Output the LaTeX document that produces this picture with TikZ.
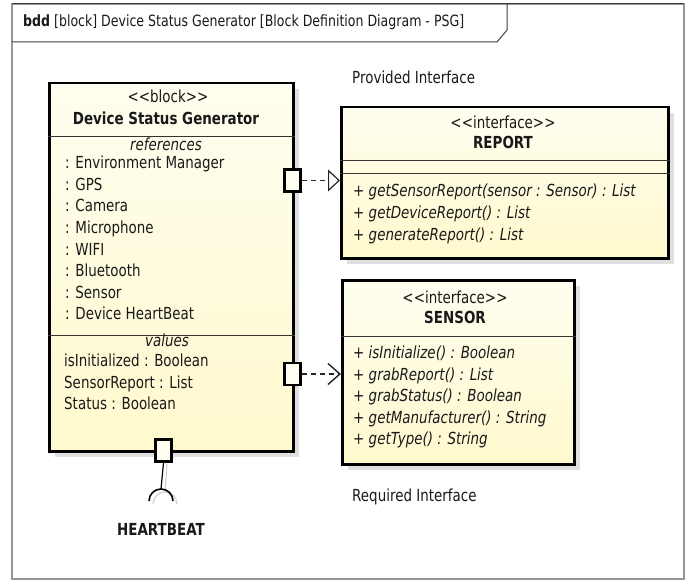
\documentclass[tikz,border=0pt]{standalone}
\usepackage{fontspec}
\setmainfont{DejaVu Sans}[FakeStretch=0.81]
\usetikzlibrary{arrows.meta}
\definecolor{boxtop}{RGB}{255,254,240}
\definecolor{boxbot}{RGB}{255,249,205}
\definecolor{shadowgray}{RGB}{224,224,224}
\definecolor{framegray}{RGB}{150,150,150}
\definecolor{inkdark}{RGB}{25,25,25}
\tikzset{
  txt/.style={font=\fontsize{16.6}{19}\selectfont, inner sep=0pt, text=inkdark},
  hdr/.style={font=\fontsize{15.5}{18}\selectfont, inner sep=0pt, text=inkdark},
  umlbox/.style={draw=black, line width=2.5pt, top color=boxtop, bottom color=boxbot, inner sep=0pt, anchor=north west},
  portbox/.style={draw=black, line width=2.5pt, fill=boxtop, minimum width=16pt, minimum height=22pt, inner sep=0pt},
  sepline/.style={draw=black!80, line width=1pt},
  depline/.style={draw=black!85, line width=1.2pt, dash pattern=on 5pt off 4pt},
  shadowrect/.style={fill=shadowgray},
}
\begin{document}
\begin{tikzpicture}[x=1pt,y=-1pt]
\useasboundingbox (0,0) rectangle (693,580);
\fill[white] (0,0) rectangle (693,580);
% frame
\draw[framegray, line width=1.5pt] (12,4) rectangle (684,579);
\draw[black!75, line width=1pt] (12,4) -- (684,4);
\draw[black!75, line width=1pt] (12,42) -- (497,42) -- (507,30) -- (507,4);
\node[hdr, anchor=mid west] (title) at (23,24) {\textbf{bdd} [block] Device Status Generator [Block Definition Diagram - PSG]};

% shadows
\fill[shadowrect] (55,89) rectangle (299,457);
\fill[shadowrect] (347,113) rectangle (674,264);
\fill[shadowrect] (348,286) rectangle (580,470);

% block
\node[umlbox, minimum width=244pt, minimum height=368pt] (blk) at (48,82) {};
\node[txt, anchor=mid] (st1) at (168,100) {{<}{<}block{>}{>}};
\node[txt, anchor=mid] (nm1) at (166,122) {\textbf{Device Status Generator}};
\draw[sepline] (blk.west |- 0,137) -- (blk.east |- 0,137);
\node[txt, anchor=mid] (refs) at (166,148) {\itshape references};
\foreach \t [count=\i] in {Environment Manager, GPS, Camera, Microphone, WIFI, Bluetooth, Sensor, Device HeartBeat}
  \node[txt, anchor=mid west] (ref\i) at (65,{166+21.6*(\i-1)}) {: \t};
\draw[sepline] (blk.west |- 0,335) -- (blk.east |- 0,335);
\node[txt, anchor=mid] (vals) at (167,344) {\itshape values};
\node[txt, anchor=mid west] (v1) at (64,364) {isInitialized : Boolean};
\node[txt, anchor=mid west] (v2) at (64,386) {SensorReport : List};
\node[txt, anchor=mid west] (v3) at (64,407) {Status : Boolean};

% REPORT interface
\node[umlbox, minimum width=327pt, minimum height=151pt] (rep) at (340,106) {};
\node[txt, anchor=mid] (st2) at (503,126) {{<}{<}interface{>}{>}};
\node[txt, anchor=mid] (nm2) at (503,146) {\textbf{REPORT}};
\draw[sepline] (rep.west |- 0,161) -- (rep.east |- 0,161);
\draw[sepline] (rep.west |- 0,174) -- (rep.east |- 0,174);
\node[txt, anchor=mid west] (o1) at (353,194) {\itshape + getSensorReport(sensor : Sensor) : List};
\node[txt, anchor=mid west] (o2) at (353,216) {\itshape + getDeviceReport() : List};
\node[txt, anchor=mid west] (o3) at (353,238) {\itshape + generateReport() : List};

% SENSOR interface
\node[umlbox, minimum width=232pt, minimum height=184pt] (sen) at (341,279) {};
\node[txt, anchor=mid] (st3) at (455,301) {{<}{<}interface{>}{>}};
\node[txt, anchor=mid] (nm3) at (455,321) {\textbf{SENSOR}};
\draw[sepline] (sen.west |- 0,336) -- (sen.east |- 0,336);
\foreach \t [count=\i] in {{+ isInitialize() : Boolean}, {+ grabReport() : List}, {+ grabStatus() : Boolean}, {+ getManufacturer() : String}, {+ getType() : String}}
  \node[txt, anchor=mid west] (so\i) at (353,{356+21.5*(\i-1)}) {\itshape \t};

% labels
\node[txt, anchor=mid west] (prov) at (352,81) {Provided Interface};
\node[txt, anchor=mid west] (req) at (352,499) {Required Interface};

% ports
\node[portbox] (p1) at (292.5,180.5) {};
\node[portbox] (p2) at (292.5,374) {};
\node[portbox] (p3) at (163.5,450.5) {};

% connectors
\draw[depline, -{Triangle[open, length=12pt, width=22pt, line width=1.2pt]}] (p1.east) -- (p1.east -| rep.west);
\draw[depline, -{Straight Barb[length=12pt, width=21pt, line width=1.4pt]}] (p2.east) -- (p2.east -| sen.west);

% required socket
\coordinate (hbtop) at (161,489);
\draw[black!20, line width=1pt] (167,464) -- (165,492);
\draw[black!15, line width=1.5pt] (153,504) .. controls (153,497.4) and (158.4,492) .. (165,492) .. controls (171.6,492) and (177,497.4) .. (177,504);
\draw[black, line width=1.2pt] (p3.south) -- (hbtop);
\draw[black, line width=1.6pt] (149,501) .. controls (149,494.4) and (154.4,489) .. (hbtop) .. controls (167.6,489) and (173,494.4) .. (173,501);
\node[txt, anchor=mid] (hb) at (161,533) {\textbf{HEARTBEAT}};
\end{tikzpicture}
\end{document}
